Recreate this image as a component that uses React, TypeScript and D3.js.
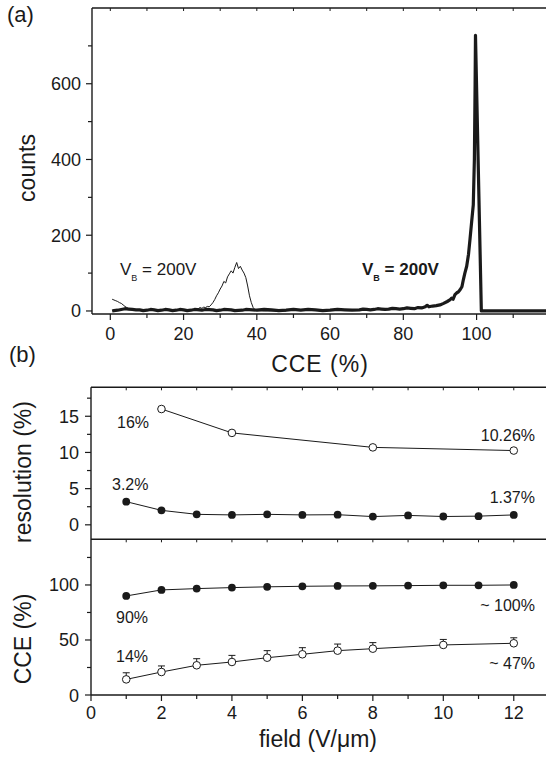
import React from 'react'
import * as d3 from 'd3'

// panel (a): pulse height spectra, [CCE %, counts]
const thinSpectrum: [number, number][] = [
  [0.5, 31], [1, 29], [1.5, 27], [2, 25], [2.5, 22], [3, 20], [3.5, 16], [4, 12], [4.5, 9], [5, 6],
  [6, 4], [7, 3], [8, 3], [9, 2], [10, 3], [12, 2], [14, 3], [16, 2], [18, 3], [20, 2],
  [22, 3], [23, 3], [24, 6], [24.5, 9], [25, 7], [25.5, 10], [26, 9], [26.5, 12], [27, 11],
  [27.5, 16], [28, 22], [28.5, 30], [29, 40], [29.5, 48], [30, 58], [30.5, 66], [31, 78],
  [31.5, 74], [32, 90], [32.5, 98], [33, 106], [33.5, 100], [34, 115], [34.5, 128], [35, 112],
  [35.5, 118], [36, 108], [36.5, 100], [37, 88], [37.5, 66], [38, 40], [38.5, 22], [39, 9],
  [39.5, 3], [40, 1], [42, 0], [48, 0],
]

const thickSpectrum: [number, number][] = [
  [0.5, 0], [1, 1], [2, 2], [3, 4], [4, 6], [5, 5], [6, 4], [7, 3], [8, 3], [9, 1], [10, 2],
  [11, 4], [12, 3], [13, 1], [14, 2], [15, 4], [16, 3], [17, 1], [18, 2], [19, 4], [20, 3],
  [21, 1], [22, 2], [23, 4], [25, 2], [26, 4], [28, 3], [29, 1], [30, 2], [31, 4], [33, 3],
  [34, 1], [36, 2], [37, 4], [40, 2], [42, 4], [44, 3], [46, 1], [48, 2], [50, 4], [52, 2],
  [54, 4], [56, 3], [58, 1], [60, 2], [62, 4], [64, 3], [66, 2], [68, 3], [69, 5], [70, 4],
  [71, 3], [72, 4], [73, 6], [74, 5], [75, 4], [76, 5], [77, 7], [78, 6], [79, 5], [80, 6],
  [81, 8], [82, 7], [83, 6], [84, 9], [85, 8], [86, 11], [86.5, 15], [87, 11],
  [88, 13], [89, 14], [90, 16], [91, 20], [92, 25], [92.7, 29], [93.2, 34], [93.6, 31],
  [94.1, 43], [94.6, 48], [95, 50], [95.5, 56], [96, 64], [96.4, 83], [96.8, 100], [97.3, 118],
  [97.8, 150], [98.2, 189], [98.6, 230], [99.1, 280], [99.4, 400], [99.6, 600], [99.7, 728],
  [101.3, 0], [120, 0],
]

// panel (b) top: energy resolution (%) vs field (V/um)
const resFilledField = [1, 2, 3, 4, 5, 6, 7, 8, 9, 10, 11, 12]
const resFilled = [3.2, 2.0, 1.45, 1.37, 1.45, 1.37, 1.4, 1.14, 1.3, 1.15, 1.2, 1.37]
const resOpenField = [2, 4, 8, 12]
const resOpen = [16, 12.7, 10.7, 10.26]

// panel (b) bottom: CCE (%) vs field (V/um)
const cceFilledField = [1, 2, 3, 4, 5, 6, 7, 8, 9, 10, 11, 12]
const cceFilled = [90, 95.5, 96.7, 97.6, 98.3, 98.8, 99.1, 99.2, 99.4, 99.7, 99.7, 100]
const cceOpenField = [1, 2, 3, 4, 5, 6, 7, 8, 10, 12]
const cceOpen = [14.2, 20.9, 27, 30, 33.9, 37, 40.3, 42.1, 45.5, 47]
const cceOpenErr = [6, 5.5, 6, 6, 6.4, 6, 6, 5.5, 5, 5]

const countTicks = [0, 200, 400, 600]
const countMinor = [100, 300, 500, 700]
const cceTicks = [0, 20, 40, 60, 80, 100]
const cceMinor = [10, 30, 50, 70, 90, 110]
const fieldTicks = [0, 2, 4, 6, 8, 10, 12]
const fieldMinor = [1, 3, 5, 7, 9, 11]
const resTicks = [0, 5, 10, 15]
const resMinor = [2.5, 7.5, 12.5, 17.5]
const ccebTicks = [0, 50, 100]
const ccebMinor = [25, 75, 125]

const FONT = 'Liberation Sans, Arial, Helvetica, sans-serif'
const INK = '#1a1a1a'

const App = () => {
  const W = 546
  const H = 757

  // panel (a) scales
  const xa = d3.scaleLinear().domain([-5, 119.5]).range([92, 548])
  const ya = d3.scaleLinear().domain([-8, 800]).range([314, 8])
  // panel (b) scales
  const xb = d3.scaleLinear().domain([0, 13]).range([91, 549])
  const yr = d3.scaleLinear().domain([-2, 19]).range([539.3, 387.3])
  const yc = d3.scaleLinear().domain([0, 141.5]).range([695, 539.3])

  const specLine = d3.line<[number, number]>().x(d => xa(d[0])).y(d => ya(d[1]))
  const ptLine = (xs: number[], ys: number[], sy: d3.ScaleLinear<number, number>) =>
    d3.line<number>().x((_, i) => xb(xs[i])).y(d => sy(d))(ys) || ''

  const tickLabel = { fontFamily: FONT, fontSize: 18, fill: INK }
  const annot = { fontFamily: FONT, fontSize: 16, fill: INK }
  const title = { fontFamily: FONT, fontSize: 23, fill: INK }

  return (
    <svg width={W} height={H} style={{ position: 'absolute', left: 0, top: 0, background: '#fff' }}>
      <rect width={W} height={H} fill="#fff" />

      {/* ---------- panel (a) ---------- */}
      <text x={7} y={22} {...title} fontSize={22}>(a)</text>

      <path d={specLine(thinSpectrum) || ''} fill="none" stroke={INK} strokeWidth={1} strokeLinejoin="round" />
      <path d={specLine(thickSpectrum) || ''} fill="none" stroke={INK} strokeWidth={3.2} strokeLinejoin="round" />

      {/* frame */}
      <line x1={xa.range()[0]} x2={W} y1={ya.range()[1]} y2={ya.range()[1]} stroke={INK} strokeWidth={1.4} />
      <line x1={xa.range()[0]} x2={xa.range()[0]} y1={ya.range()[1]} y2={ya.range()[0]} stroke={INK} strokeWidth={1.4} />
      <line x1={xa.range()[0]} x2={W} y1={ya.range()[0]} y2={ya.range()[0]} stroke={INK} strokeWidth={1.4} />

      {cceTicks.map(t => (
        <g key={'xa' + t}>
          <line x1={xa(t)} x2={xa(t)} y1={ya.range()[0]} y2={ya.range()[0] + 6} stroke={INK} strokeWidth={1.2} />
          <line x1={xa(t)} x2={xa(t)} y1={ya.range()[1]} y2={ya.range()[1] + 3} stroke={INK} strokeWidth={1} />
          <text x={xa(t)} y={340} textAnchor="middle" {...tickLabel}>{t}</text>
        </g>
      ))}
      {cceMinor.map(t => (
        <g key={'xam' + t}>
          <line x1={xa(t)} x2={xa(t)} y1={ya.range()[0]} y2={ya.range()[0] + 4} stroke={INK} strokeWidth={1.2} />
          <line x1={xa(t)} x2={xa(t)} y1={ya.range()[1]} y2={ya.range()[1] + 3} stroke={INK} strokeWidth={1} />
        </g>
      ))}
      {countTicks.map(t => (
        <g key={'ya' + t}>
          <line x1={xa.range()[0] - 6} x2={xa.range()[0]} y1={ya(t)} y2={ya(t)} stroke={INK} strokeWidth={1.2} />
          <text x={81} y={ya(t) + 6.5} textAnchor="end" {...tickLabel}>{t}</text>
        </g>
      ))}
      {countMinor.map(t => (
        <line key={'yam' + t} x1={xa.range()[0] - 4} x2={xa.range()[0]} y1={ya(t)} y2={ya(t)} stroke={INK} strokeWidth={1.2} />
      ))}

      <text x={320} y={372} textAnchor="middle" {...title} letterSpacing={1}>CCE (%)</text>
      <text transform="translate(35,168) rotate(-90)" textAnchor="middle" {...title}>counts</text>

      <text x={120} y={275} {...annot} fontSize={17}>
        V<tspan dy={6} fontSize={9}>B</tspan><tspan dy={-6}>{' = 200V'}</tspan>
      </text>
      <text x={362} y={275} {...annot} fontSize={17} fontWeight="bold">
        V<tspan dy={6} fontSize={9}>B</tspan><tspan dy={-6}>{' = 200V'}</tspan>
      </text>

      {/* ---------- panel (b) ---------- */}
      <text x={9} y={362} {...title} fontSize={22}>(b)</text>

      {/* frame */}
      <line x1={xb.range()[0]} x2={W} y1={yr.range()[1]} y2={yr.range()[1]} stroke={INK} strokeWidth={1.4} />
      <line x1={xb.range()[0]} x2={W} y1={yr.range()[0]} y2={yr.range()[0]} stroke={INK} strokeWidth={1.4} />
      <line x1={xb.range()[0]} x2={W} y1={yc.range()[0]} y2={yc.range()[0]} stroke={INK} strokeWidth={1.4} />
      <line x1={xb.range()[0]} x2={xb.range()[0]} y1={yr.range()[1]} y2={yc.range()[0]} stroke={INK} strokeWidth={1.4} />

      {[...fieldTicks, ...fieldMinor].map(t => {
        const major = fieldTicks.includes(t)
        return (
          <g key={'xb' + t}>
            {t > 0 && <line x1={xb(t)} x2={xb(t)} y1={yr.range()[1]} y2={yr.range()[1] + 3} stroke={INK} strokeWidth={1} />}
            {t > 0 && <line x1={xb(t)} x2={xb(t)} y1={yr.range()[0]} y2={yr.range()[0] + 3} stroke={INK} strokeWidth={1} />}
            <line x1={xb(t)} x2={xb(t)} y1={yc.range()[0]} y2={yc.range()[0] + (major ? 6 : 4)} stroke={INK} strokeWidth={1.2} />
            {major && <text x={xb(t)} y={719} textAnchor="middle" {...tickLabel}>{t}</text>}
          </g>
        )
      })}
      {resTicks.map(t => (
        <g key={'yr' + t}>
          <line x1={xb.range()[0] - 6} x2={xb.range()[0]} y1={yr(t)} y2={yr(t)} stroke={INK} strokeWidth={1.2} />
          <text x={79} y={yr(t) + 6.5} textAnchor="end" {...tickLabel}>{t}</text>
        </g>
      ))}
      {resMinor.map(t => (
        <line key={'yrm' + t} x1={xb.range()[0] - 4} x2={xb.range()[0]} y1={yr(t)} y2={yr(t)} stroke={INK} strokeWidth={1.2} />
      ))}
      {ccebTicks.map(t => (
        <g key={'yc' + t}>
          <line x1={xb.range()[0] - 6} x2={xb.range()[0]} y1={yc(t)} y2={yc(t)} stroke={INK} strokeWidth={1.2} />
          <text x={79} y={yc(t) + 6.5} textAnchor="end" {...tickLabel}>{t}</text>
        </g>
      ))}
      {ccebMinor.map(t => (
        <line key={'ycm' + t} x1={xb.range()[0] - 4} x2={xb.range()[0]} y1={yc(t)} y2={yc(t)} stroke={INK} strokeWidth={1.2} />
      ))}

      {/* resolution series */}
      <path d={ptLine(resOpenField, resOpen, yr)} fill="none" stroke={INK} strokeWidth={1} />
      <path d={ptLine(resFilledField, resFilled, yr)} fill="none" stroke={INK} strokeWidth={1} />
      {resOpen.map((v, i) => (
        <circle key={'ro' + i} cx={xb(resOpenField[i])} cy={yr(v)} r={3.8} fill="#fff" stroke={INK} strokeWidth={1} />
      ))}
      {resFilled.map((v, i) => (
        <circle key={'rf' + i} cx={xb(resFilledField[i])} cy={yr(v)} r={3.9} fill={INK} />
      ))}

      {/* CCE series */}
      <path d={ptLine(cceFilledField, cceFilled, yc)} fill="none" stroke={INK} strokeWidth={1} />
      <path d={ptLine(cceOpenField, cceOpen, yc)} fill="none" stroke={INK} strokeWidth={1} />
      {cceOpen.map((v, i) => {
        const cx = xb(cceOpenField[i])
        const top = yc(v + cceOpenErr[i])
        return (
          <g key={'eb' + i}>
            <line x1={cx} x2={cx} y1={yc(v)} y2={top} stroke={INK} strokeWidth={1} />
            <line x1={cx - 3.5} x2={cx + 3.5} y1={top} y2={top} stroke={INK} strokeWidth={1} />
          </g>
        )
      })}
      {cceOpen.map((v, i) => (
        <circle key={'co' + i} cx={xb(cceOpenField[i])} cy={yc(v)} r={3.8} fill="#fff" stroke={INK} strokeWidth={1} />
      ))}
      {cceFilled.map((v, i) => (
        <circle key={'cf' + i} cx={xb(cceFilledField[i])} cy={yc(v)} r={3.9} fill={INK} />
      ))}

      {/* annotations */}
      <text x={117} y={428} {...annot}>16%</text>
      <text x={535} y={441} textAnchor="end" {...annot}>10.26%</text>
      <text x={112} y={490} {...annot}>3.2%</text>
      <text x={535} y={503} textAnchor="end" {...annot}>1.37%</text>
      <text x={116} y={623} {...annot}>90%</text>
      <text x={535} y={611} textAnchor="end" {...annot}>~ 100%</text>
      <text x={116} y={662} {...annot}>14%</text>
      <text x={535} y={669} textAnchor="end" {...annot}>~ 47%</text>

      <text transform="translate(31,472) rotate(-90)" textAnchor="middle" {...title}>resolution (%)</text>
      <text transform="translate(31,639) rotate(-90)" textAnchor="middle" {...title}>CCE (%)</text>
      <text x={318} y={747} textAnchor="middle" {...title}>field (V/μm)</text>
    </svg>
  )
}

export default App
